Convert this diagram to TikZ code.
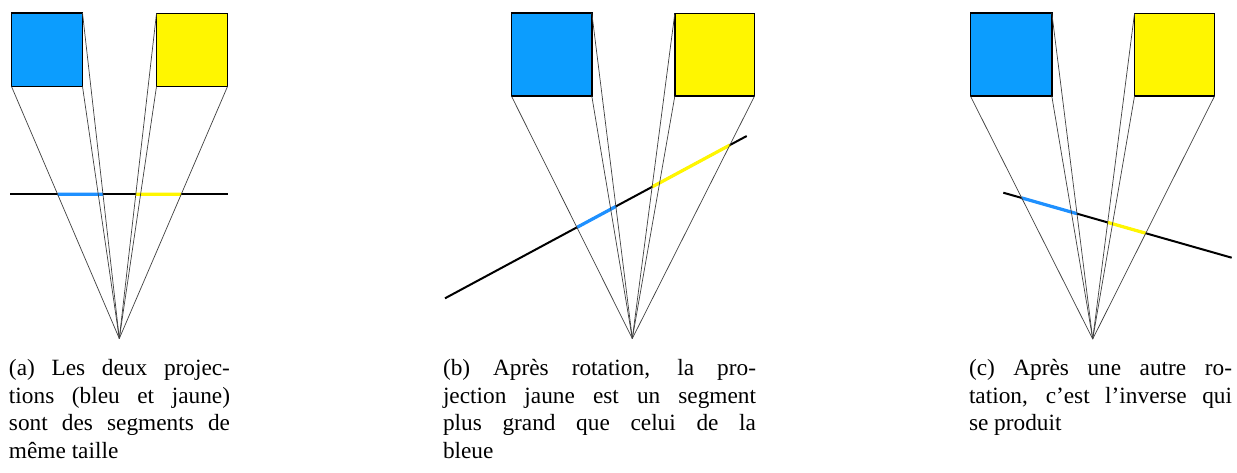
\documentclass[tikz,border=0pt]{standalone}
\usepackage{fontspec}
\setmainfont{Liberation Serif}
\definecolor{sqblue}{RGB}{12,157,254}
\definecolor{segblue}{RGB}{30,144,255}
\definecolor{sqyellow}{RGB}{255,246,0}
\newcommand\capbox[2]{\parbox[t]{#1}{\fontsize{23.3pt}{27.6pt}\selectfont #2}}
\tikzset{
  sq/.style={draw=black, line width=1.7pt, outer sep=0pt, inner sep=0pt, anchor=north west},
  bluesq/.style={sq, fill=sqblue},
  yellowsq/.style={sq, fill=sqyellow},
  ray/.style={draw=black!75, line width=0.7pt},
  screenline/.style={draw=black, line width=2pt},
  projblue/.style={draw=segblue, line width=3.2pt},
  projyellow/.style={draw=sqyellow, line width=3.2pt},
  captext/.style={anchor=base west, inner sep=0pt, outer sep=0pt}
}
\begin{document}
\begin{tikzpicture}[x=1pt, y=-1pt]
\useasboundingbox[fill=white] (0,0) rectangle (1237,472);

% ---------------- panel (a) ----------------
\node[bluesq, minimum width=71pt, minimum height=73.5pt] (ba) at (11.5,13) {};
\node[yellowsq, minimum width=71pt, minimum height=73pt] (ya) at (156.5,13.5) {};
\coordinate (Aa) at (119.3,338.5);
\coordinate (La1) at (10,194.3);
\coordinate (La2) at (228,194.3);
\draw[screenline] (La1) -- (La2);
\draw[projblue] (intersection of Aa--ba.south west and La1--La2) -- (intersection of Aa--ba.north east and La1--La2);
\draw[projyellow] (intersection of Aa--ya.north west and La1--La2) -- (intersection of Aa--ya.south east and La1--La2);
\draw[ray] (ba.south west) -- (Aa);
\draw[ray] (ba.south east) -- (Aa);
\draw[ray] (ba.north east) -- (Aa);
\draw[ray] (ya.north west) -- (Aa);
\draw[ray] (ya.south west) -- (Aa);
\draw[ray] (ya.south east) -- (Aa);

% ---------------- panel (b) ----------------
\node[bluesq, minimum width=80.3pt, minimum height=83.2pt] (bb) at (511.5,13) {};
\node[yellowsq, minimum width=79.7pt, minimum height=82.7pt] (yb) at (674.8,13.5) {};
\coordinate (Ab) at (632.3,338.5);
\coordinate (Lb1) at (445,298.3);
\coordinate (Lb2) at (746.7,136);
\draw[screenline] (Lb1) -- (Lb2);
\draw[projblue] (intersection of Ab--bb.south west and Lb1--Lb2) -- (intersection of Ab--bb.north east and Lb1--Lb2);
\draw[projyellow] (intersection of Ab--yb.north west and Lb1--Lb2) -- (intersection of Ab--yb.south east and Lb1--Lb2);
\draw[ray] (bb.south west) -- (Ab);
\draw[ray] (bb.south east) -- (Ab);
\draw[ray] (bb.north east) -- (Ab);
\draw[ray] (yb.north west) -- (Ab);
\draw[ray] (yb.south west) -- (Ab);
\draw[ray] (yb.south east) -- (Ab);

% ---------------- panel (c) ----------------
\node[bluesq, minimum width=81.3pt, minimum height=83.2pt] (bc) at (970.5,13) {};
\node[yellowsq, minimum width=80pt, minimum height=82.7pt] (yc) at (1134.5,13.5) {};
\coordinate (Ac) at (1092.7,339);
\coordinate (Lc1) at (1003.3,192.7);
\coordinate (Lc2) at (1231.7,257.7);
\draw[screenline] (Lc1) -- (Lc2);
\draw[projblue] (intersection of Ac--bc.south west and Lc1--Lc2) -- (intersection of Ac--bc.north east and Lc1--Lc2);
\draw[projyellow] (intersection of Ac--yc.north west and Lc1--Lc2) -- (intersection of Ac--yc.south east and Lc1--Lc2);
\draw[ray] (bc.south west) -- (Ac);
\draw[ray] (bc.south east) -- (Ac);
\draw[ray] (bc.north east) -- (Ac);
\draw[ray] (yc.north west) -- (Ac);
\draw[ray] (yc.south west) -- (Ac);
\draw[ray] (yc.south east) -- (Ac);

% ---------------- captions ----------------
\node[captext] (capa) at (9,375.5) {\capbox{221pt}{(a) Les deux projec-\linebreak tions (bleu et jaune)\linebreak sont des segments de\linebreak même taille}};
\node[captext] (capb) at (443,375.5) {\capbox{313pt}{(b) Après rotation, la pro-\linebreak jection jaune est un segment\linebreak plus grand que celui de la\linebreak bleue}};
\node[captext] (capc) at (969,375.5) {\capbox{263pt}{(c) Après une autre ro-\linebreak tation, c’est l’inverse qui\linebreak se produit}};
\end{tikzpicture}
\end{document}
